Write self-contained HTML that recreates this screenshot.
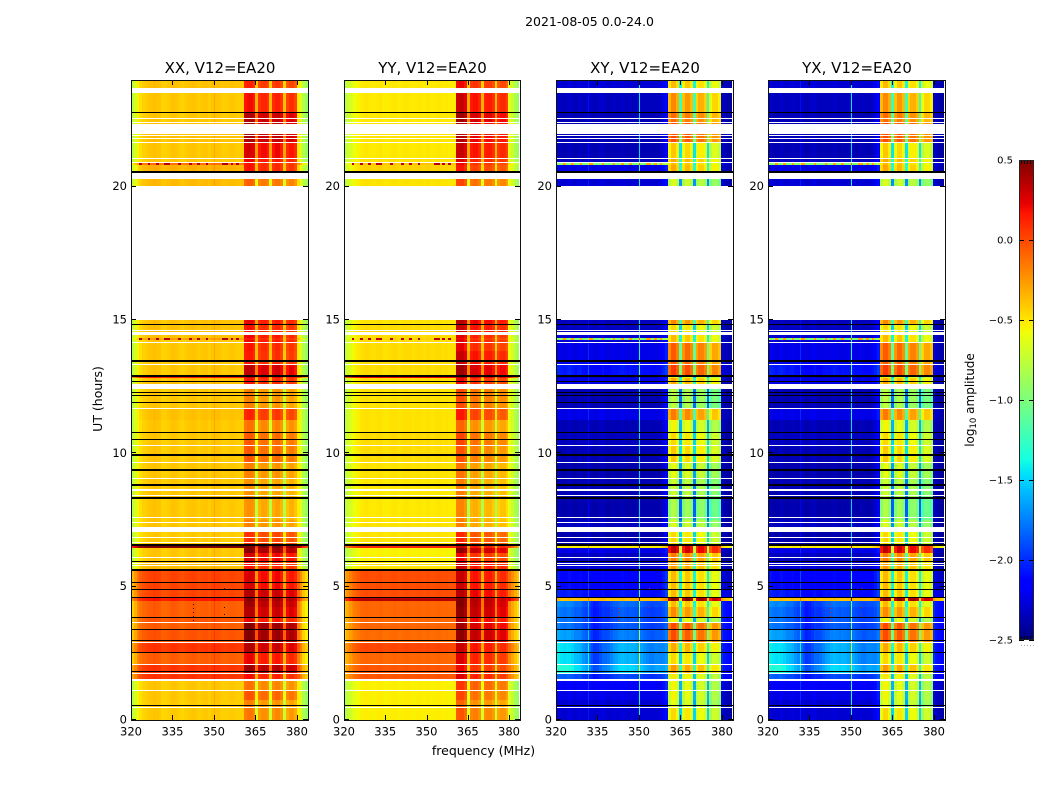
<!DOCTYPE html>
<html>
<head>
<meta charset="utf-8">
<title>2021-08-05 0.0-24.0</title>
<style>
html,body{margin:0;padding:0;background:#fff;width:1050px;height:800px;overflow:hidden}
svg{display:block}
text{font-family:"DejaVu Sans","Liberation Sans",sans-serif;fill:#000}
</style>
</head>
<body>
<svg id="chart" xmlns="http://www.w3.org/2000/svg" width="1050" height="800" viewBox="0 0 1050 800">
<text x="589.5" y="26" font-size="12.5" text-anchor="middle">2021-08-05 0.0-24.0</text>
<text x="0" y="0" font-size="12.5" text-anchor="middle" transform="translate(102,399) rotate(-90)">UT (hours)</text>
<text x="483.5" y="755" font-size="12.5" text-anchor="middle">frequency (MHz)</text>
<text x="0" y="0" font-size="12" text-anchor="middle" transform="translate(974,400) rotate(-90)">log<tspan font-size="8.5" dy="2">10</tspan><tspan dy="-2"> amplitude</tspan></text>
</svg>
<script>
// ---- time structure (UT hours): start of each time segment
const segStart = [0,.45,.75,1.125,1.54,1.76,2.1,2.55,2.925,3.41,3.675,3.86,4.24,4.48,4.61,4.91,5.59,5.96,6.26,6.45,6.51,6.6,7.05,7.5,8.325,9.075,9.675,10.31,10.8,11.25,11.7,12.41,12.71,12.83,12.88,13.35,13.84,14.175,14.25,14.31,14.44,14.85,15,20.03,20.29,20.55,20.81,20.87,21.04,21.68,22.39,22.8,23.51,23.7];

// ---- log10 amplitude per segment: out-of-band (Base) and in-band (Band)
const xxBase = [-.43,-.43,-.42,-.42,.05,.05,-.08,.05,-.05,-.08,-.05,-.08,-.08,.15,0,0,-.38,-.42,-.42,.5,.5,-.43,-.42,-.42,-.42,-.42,-.42,-.42,-.42,-.4,-.42,-.4,-.4,.12,-.42,-.42,-.42,-.42,-.3,-.4,-.4,-.4,-.4,-.38,-.38,-.35,-.15,-.42,-.42,-.4,-.42,-.42,-.42,-.4];
const xxBand = [-.22,-.25,-.1,-.2,.12,.35,.15,.3,.42,.42,.15,.3,.35,.4,.3,.2,.1,.2,.4,.5,.5,0,-.25,-.3,-.3,-.25,-.12,-.12,-.2,.05,-.25,.1,.1,.2,.27,.08,.1,.15,.1,.15,.1,.15,.1,-.15,-.15,.1,.1,.15,.2,.32,.3,.12,.12,.05];
const yyBase = [-.54,-.54,-.54,-.54,-.05,-.05,-.1,0,-.12,-.1,-.1,-.1,-.1,.35,-.02,-.02,-.5,-.55,-.55,.1,.1,-.5,-.5,-.52,-.52,-.5,-.48,-.48,-.5,-.5,-.5,-.48,-.48,.2,-.48,-.48,-.48,-.48,-.45,-.48,-.48,-.5,-.5,-.5,-.5,-.45,-.4,-.5,-.52,-.5,-.52,-.52,-.52,-.52];
const yyBand = [-.15,-.2,-.1,-.05,.15,.1,.15,.2,.35,.3,.25,.35,.38,.4,.25,.2,.2,.1,.35,.2,.2,0,-.28,-.3,-.28,-.25,-.15,-.1,-.2,.05,-.12,.1,.1,.3,.3,.2,.12,.15,.1,.15,.2,.25,.1,-.1,-.1,.05,.1,.15,.2,.25,.3,.2,.2,.1];
const xyBase = [-2.3,-2.3,-2.25,-2.2,-1.95,-1.55,-1.65,-1.65,-1.8,-1.9,-1.9,-1.9,-1.85,-.4,-2.1,-2.15,-2.3,-2.35,-2.25,-.55,-.55,-2.4,-2.35,-2.4,-2.38,-2.4,-2.38,-2.35,-2.38,-2.25,-2.38,-2.25,-2.25,-2.35,-2.1,-2.25,-2.25,-2.3,-1,-2.3,-2.35,-2.35,-2.35,-2.3,-2.3,-2.25,-1,-2.35,-2.38,-2.38,-2.38,-2.35,-2.35,-2.3];
const xyBand = [-.5,-.65,-.6,-.6,-.55,-.3,-.5,-.35,-.05,-.05,-.6,-.25,-.4,.5,-.4,-.4,-.3,-.2,.3,.3,.3,-.5,-.7,-.85,-.75,-.65,-.45,-.5,-.6,-.2,-.8,-.35,-.35,-.55,0,-.1,-.1,-.4,-.4,-.4,-.5,-.25,-.7,-.7,-.7,-.35,-.4,-.35,-.45,-.05,-.15,-.25,-.25,-.4];
const xyEdge = [-2.35,-2.35,-2.35,-2.3,-2.15,-2.1,-2.1,-2.1,-2.1,-2.1,-2.1,-2.1,-2.1,-.4,-2.25,-2.3,-2.35,-2.4,-2.35,-.55,-.55,-2.4,-2.4,-2.4,-2.4,-2.4,-2.4,-2.4,-2.4,-2.35,-2.4,-2.35,-2.35,-2.4,-2.3,-2.35,-2.35,-2.35,-2.35,-2.35,-2.4,-2.4,-2.4,-2.35,-2.35,-2.35,-2.3,-2.38,-2.38,-2.38,-2.38,-2.38,-2.38,-2.35];
const yxBase = [-2.3,-2.3,-2.25,-2.2,-1.95,-1.55,-1.65,-1.65,-1.8,-1.9,-1.9,-1.9,-1.85,-.4,-2.1,-2.15,-2.3,-2.35,-2.25,-.55,-.55,-2.4,-2.35,-2.4,-2.38,-2.4,-2.38,-2.35,-2.38,-2.25,-2.38,-2.25,-2.25,-2.35,-2.1,-2.25,-2.25,-2.3,-1,-2.3,-2.35,-2.35,-2.35,-2.3,-2.3,-2.25,-1,-2.35,-2.38,-2.38,-2.38,-2.35,-2.35,-2.3];
const yxBand = [-.5,-.65,-.6,-.6,-.55,-.3,-.5,-.35,-.05,-.05,-.6,-.25,-.4,.5,-.4,-.4,-.3,-.2,.3,.3,.3,-.5,-.7,-.85,-.75,-.65,-.45,-.5,-.6,-.2,-.8,-.35,-.35,-.55,0,-.1,-.1,-.4,-.4,-.4,-.5,-.25,-.7,-.7,-.7,-.35,-.4,-.35,-.45,-.05,-.15,-.25,-.25,-.4];
const yxEdge = [-2.35,-2.35,-2.35,-2.3,-2.15,-2.1,-2.1,-2.1,-2.1,-2.1,-2.1,-2.1,-2.1,-.4,-2.25,-2.3,-2.35,-2.4,-2.35,-.55,-.55,-2.4,-2.4,-2.4,-2.4,-2.4,-2.4,-2.4,-2.4,-2.35,-2.4,-2.35,-2.35,-2.4,-2.3,-2.35,-2.35,-2.35,-2.35,-2.35,-2.4,-2.4,-2.4,-2.35,-2.35,-2.35,-2.3,-2.38,-2.38,-2.38,-2.38,-2.38,-2.38,-2.35];

// ---- per-channel offsets (64 channels of 1 MHz)
const xxChannels = [-.35,-.25,-.13,-.06,-.02,0,.02,.02,.04,.03,.02,-.02,-.02,0,.02,.03,.02,0,-.02,0,.01,.02,.03,.02,0,.01,.02,.02,0,.03,.02,.03,.01,0,0,.01,.02,.01,0,0,0,.05,.08,.08,.03,-.45,-.05,0,0,-.05,-.48,-.03,.02,.02,-.05,-.5,-.1,-.03,-.03,-.1,-.1,-.22,-.38,-.48];
const yyChannels = [-.3,-.22,-.15,-.1,-.06,-.03,0,.01,.02,.01,0,0,.01,.02,0,-.01,0,.01,.02,.01,0,.01,.02,.02,.01,0,.01,.02,.01,0,.02,.01,0,.01,.02,.01,0,.01,0,0,0,.1,.12,.12,.05,-.5,-.05,-.02,-.02,-.08,-.52,-.08,-.05,-.05,-.12,-.55,-.15,-.1,-.1,-.18,-.1,-.2,-.3,-.38];
const xyChannels = [.05,.05,.02,0,.02,.05,.02,0,.03,.05,.02,.02,.02,.03,0,.02,.04,.06,.02,0,.02,.03,.01,.02,.04,.02,0,.02,.01,.02,.02,.02,.01,.02,.03,.02,.01,.02,.05,.1,.2,-.12,.05,.05,-.08,-1,-.15,0,0,-.12,-1,-.2,-.08,-.08,-.18,-1,-.35,-.2,-.2,-.3,.1,.02,0,-.05];
const yxChannels = [.05,.05,.02,0,.02,.05,.02,0,.03,.05,.02,.02,.02,.03,0,.02,.04,.06,.02,0,.02,.03,.01,.02,.04,.02,0,.02,.01,.02,.02,.02,.01,.02,.03,.02,.01,.02,.05,.1,.2,-.12,.05,.05,-.08,-1,-.15,0,0,-.12,-1,-.2,-.08,-.08,-.18,-1,-.35,-.2,-.2,-.3,.1,.02,0,-.05];

// ---- cross-pol spectral shape seen in the brighter 1.5-4 h rows (channels 0-40)
const crossMidShape = [.15,.2,.2,.2,.2,.15,.15,.1,.05,0,-.05,-.1,-.2,-.3,-.35,-.35,-.3,-.25,-.2,-.15,-.1,-.05,0,.05,.05,.05,.05,.05,.05,0,0,0,-.05,-.1,-.15,-.15,-.1,-.1,-.15,-.2,-.25];

// ---- narrow spectral lines: frequency and per-panel offset
const narrowFreqs = [350,331.6];
const xxNarrow = [.12,0];
const yyNarrow = [0,0];
const xyNarrow = [.9,.25];
const yxNarrow = [.9,.25];

// ---- flagged (white) and dropped (black) time ranges, hours
const flagStart = [23.51,22.54,22.41,21.99,21.89,21.79,21.66,21.03,20.89,20.29,15,14.59,14.44,14.14,13.31,12.41,11.66,10.28,9.64,9.04,8.6,8.4,7.58,7.39,7.05,6.83,6.66,6.08,5.85,5.78,3.64,2.89,2.06,1.73,1.46,1.09,.45];
const flagEnd   = [23.69,22.58,22.44,22.36,21.94,21.83,21.69,21.09,20.93,20.52,20.04,14.63,14.56,14.18,13.35,12.61,11.7,10.31,9.68,9.08,8.66,8.44,7.61,7.43,7.24,6.86,6.69,6.11,5.89,5.81,3.68,2.93,2.1,1.76,1.54,1.13,.49];
const darkStart = [22.75,20.52,14.81,13.44,12.87,12.68,12.26,12.15,11.89,10.76,10.5,9.9,9.34,8.78,8.29,6.51,5.93,5.57,5.14,4.88,4.58,3.83,3.38,2.96,2.51,1.8,.53];
const darkEnd   = [22.8,20.59,14.85,13.5,12.92,12.71,12.3,12.19,11.93,10.8,10.54,9.98,9.41,8.85,8.36,6.6,5.96,5.66,5.18,4.91,4.61,3.86,3.41,3,2.55,1.84,.56];

// ---- sparse RFI rows and isolated points
const sparseRows = [14.25,20.81];
const sparseChannels = [3,6,9,12,13,17,21,24,27,33,34,36,38];
const sparseLevels = [.35,.35,-.3,-.3];
const pointHours = [4.3,4.15,4.0,3.85,3.72,4.9,4.2,3.95];
const pointFreqs = [342.3,342.3,342.3,342.3,342.3,353.6,353.6,353.6];

// ---- axes
const xTicks = [320,335,350,365,380];
const yTicks = [0,5,10,15,20];
const colorTicks = [-2.5,-2,-1.5,-1,-.5,0,.5];
const colorLabels = ['\u22122.5','\u22122.0','\u22121.5','\u22121.0','\u22120.5','0.0','0.5'];
const panelTitles = ['XX, V12=EA20','YY, V12=EA20','XY, V12=EA20','YX, V12=EA20'];
const panelKeys = ['xx','yy','xy','yx'];
const panelBases = [xxBase,yyBase,xyBase,yxBase];
const panelBands = [xxBand,yyBand,xyBand,yxBand];
const panelEdges = [null,null,xyEdge,yxEdge];
const panelChannels = [xxChannels,yyChannels,xyChannels,yxChannels];
const panelNarrow = [xxNarrow,yyNarrow,xyNarrow,yxNarrow];
const channelOrigin = [320,319.8,319.5,319.5];
const panelLeft = [131,344,556,768];
const panelRight = [308,520,733,945];

const PLOT_TOP = 80, PLOT_BOTTOM = 720, F_MIN = 320, F_MAX = 384, T_MAX = 24;
const V_MIN = -2.5, V_MAX = .5, BAND_FIRST = 41, BAND_LAST = 59;
const NS = 'http://www.w3.org/2000/svg';
const svg = document.getElementById('chart');

function yScale(h){ return PLOT_BOTTOM - h / T_MAX * (PLOT_BOTTOM - PLOT_TOP); }
function xScale(p, f){ return panelLeft[p] + (f - F_MIN) / (F_MAX - F_MIN) * (panelRight[p] - panelLeft[p]); }
function clamp(a, lo, hi){ return Math.max(lo, Math.min(hi, a)); }
function ramp(t, pts){
  if (t <= pts[0][0]) return pts[0][1];
  for (let i = 1; i < pts.length; i++) {
    if (t <= pts[i][0]) {
      const a = pts[i-1], b = pts[i];
      return a[1] + (b[1] - a[1]) * (t - a[0]) / (b[0] - a[0]);
    }
  }
  return pts[pts.length-1][1];
}
function jet(v){
  const t = clamp((v - V_MIN) / (V_MAX - V_MIN), 0, 1);
  const r = ramp(t, [[0,0],[.35,0],[.66,1],[.89,1],[1,.5]]);
  const g = ramp(t, [[0,0],[.125,0],[.375,1],[.64,1],[.91,0],[1,0]]);
  const b = ramp(t, [[0,.5],[.11,1],[.34,1],[.65,0],[1,0]]);
  return 'rgb(' + Math.round(r*255) + ',' + Math.round(g*255) + ',' + Math.round(b*255) + ')';
}
function make(tag, parent){
  const el = document.createElementNS(NS, tag);
  parent.appendChild(el);
  return el;
}
function box(parent, x1, y1, x2, y2, fill){
  const x = Math.round(x1), y = Math.round(y1);
  const el = make('rect', parent);
  el.setAttribute('x', x);
  el.setAttribute('y', y);
  el.setAttribute('width', Math.max(1, Math.round(x2) - x));
  el.setAttribute('height', Math.max(1, Math.round(y2) - y));
  el.setAttribute('fill', fill);
  el.setAttribute('shape-rendering', 'crispEdges');
  return el;
}
function hairline(parent, x1, y1, x2, y2, color){
  const el = make('line', parent);
  el.setAttribute('x1', x1);
  el.setAttribute('y1', y1);
  el.setAttribute('x2', x2);
  el.setAttribute('y2', y2);
  el.setAttribute('stroke', color);
  el.setAttribute('stroke-width', 1);
  el.setAttribute('shape-rendering', 'crispEdges');
  return el;
}
function label(parent, x, y, str, size, anchor){
  const el = make('text', parent);
  el.setAttribute('x', x);
  el.setAttribute('y', y);
  el.setAttribute('font-size', size);
  el.setAttribute('text-anchor', anchor);
  el.textContent = str;
  return el;
}
function cellLevel(p, s, c){
  const base = panelBases[p][s], edge = panelEdges[p], off = panelChannels[p][c];
  if (c >= BAND_FIRST && c <= BAND_LAST) return panelBands[p][s] + off;
  if (c > BAND_LAST && edge) return edge[s] + off;
  if (p >= 2 && c < crossMidShape.length && base > -2.2 && base < -1.2) {
    return base + off + crossMidShape[c] * clamp((base + 2.2) / .6, 0, 1);
  }
  return base + off;
}

panelTitles.forEach(function(title, p){
  const g = make('g', svg);
  
  
  const L = panelLeft[p], R = panelRight[p];

  // heatmap cells
  const heat = make('g', g);
  
  
  const base = panelBases[p], prof = panelChannels[p], narrow = panelNarrow[p];
  segStart.forEach(function(start, s){
    const end = s + 1 < segStart.length ? segStart[s+1] : T_MAX;
    const sparse = sparseRows.indexOf(start) >= 0;
    for (let c = 0; c < prof.length; c++) {
      let v = cellLevel(p, s, c);
      if (sparse && sparseChannels.indexOf(c) >= 0) v = sparseLevels[p];
      const f0 = clamp(channelOrigin[p] + c, F_MIN, F_MAX);
      const f1 = clamp(channelOrigin[p] + c + 1, F_MIN, F_MAX);
      const cell = box(heat, xScale(p, f0), yScale(end), xScale(p, f1), yScale(start), jet(v));
      
      
    }
    narrowFreqs.forEach(function(f, n){
      if (narrow[n] === 0) return;
      const line = box(heat, xScale(p, f), yScale(end), xScale(p, f + .36), yScale(start), jet(base[s] + narrow[n]));
      
      
    });
  });

  // isolated RFI points
  pointHours.forEach(function(h, i){
    if (p === 1) return;
    const pt = box(g, xScale(p, pointFreqs[i]), yScale(h + .04), xScale(p, pointFreqs[i] + .4), yScale(h), p < 2 ? '#300000' : '#e02000');
    
    
  });

  // dropped and flagged times
  darkStart.forEach(function(h, i){
    const d = box(g, L, yScale(darkEnd[i]), R + 1, yScale(h), '#000');
    
    
  });
  flagStart.forEach(function(h, i){
    const w = box(g, L, yScale(flagEnd[i]), R + 1, yScale(h), '#fff');
    
    
  });

  // ticks and tick labels
  xTicks.forEach(function(f){
    const x = Math.round(xScale(p, f)) + .5;
    const t1 = hairline(g, x, PLOT_BOTTOM, x, PLOT_BOTTOM - 5, '#000');
    
    
    const t2 = hairline(g, x, PLOT_TOP, x, PLOT_TOP + 5, '#000');
    
    
    const tl = label(g, xScale(p, f), 735.5, String(f), 11.5, 'middle');
    
    
  });
  yTicks.forEach(function(h){
    const y = Math.round(yScale(h)) - .5;
    const t1 = hairline(g, L, y, L + 5, y, '#000');
    
    
    const t2 = hairline(g, R, y, R - 5, y, '#000');
    
    
    const tl = label(g, L - 4, yScale(h) + 3.5, String(h), 11.5, 'end');
    
    
  });

  // frame and title
  const frame = make('rect', g);
  frame.setAttribute('x', L + .5);
  frame.setAttribute('y', PLOT_TOP + .5);
  frame.setAttribute('width', R - L);
  frame.setAttribute('height', PLOT_BOTTOM - PLOT_TOP);
  frame.setAttribute('fill', 'none');
  frame.setAttribute('stroke', '#111');
  frame.setAttribute('shape-rendering', 'crispEdges');
  
  
  const tt = label(g, (L + R) / 2 + .5, 73, title, 15, 'middle');
  
  
});

// colorbar
const CB_L = 1019, CB_R = 1034, CB_T = 160, CB_B = 640;
function cbY(v){ return CB_B - (v - V_MIN) / (V_MAX - V_MIN) * (CB_B - CB_T); }
const cb = make('g', svg);


for (let y = CB_T; y < CB_B; y += 2) {
  const v = V_MIN + (CB_B - y - 1) / (CB_B - CB_T) * (V_MAX - V_MIN);
  const seg = box(cb, CB_L, y, CB_R, y + 2, jet(v));
  
  
}
colorTicks.forEach(function(v, i){
  const y = Math.round(cbY(v)) + .5;
  const t1 = hairline(cb, CB_L, y, CB_L + 5, y, '#000');
  
  
  const t2 = hairline(cb, CB_R, y, CB_R - 5, y, '#000');
  
  
  const tl = label(cb, 1013, cbY(v) + 3.5, colorLabels[i], 10, 'end');
  
  
});
[0,1,2,3,4].forEach(function(k){
  const x = CB_L + 2.5 + k * 3;
  const a = hairline(cb, x, CB_T, x, CB_T + 4, '#000');
  
  
  const b = hairline(cb, x, CB_B, x, CB_B - 4, '#000');
  
  
  const d = box(cb, x - 1, 645, x, 646, '#aaa');
  
  
});
const cbFrame = make('rect', cb);
cbFrame.setAttribute('x', CB_L + .5);
cbFrame.setAttribute('y', CB_T + .5);
cbFrame.setAttribute('width', CB_R - CB_L - 1);
cbFrame.setAttribute('height', CB_B - CB_T - 1);
cbFrame.setAttribute('fill', 'none');
cbFrame.setAttribute('stroke', '#222');
cbFrame.setAttribute('shape-rendering', 'crispEdges');


</script>
</body>
</html>
